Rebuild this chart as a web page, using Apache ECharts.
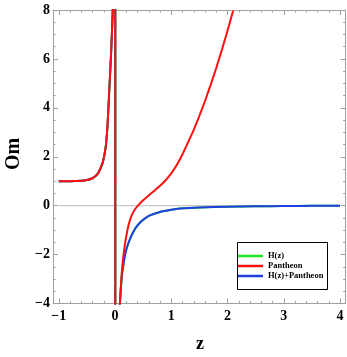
<!DOCTYPE html>
<html>
<head>
<meta charset="utf-8">
<script src="https://cdn.jsdelivr.net/npm/echarts@6/dist/echarts.min.js"></script>
<style>html,body{margin:0;padding:0;background:#fff}#c{width:347px;height:357px}</style>
</head>
<body>
<div id="c"></div>
<script>
// Left branch (z < 0), shared by all three reconstructions
const leftZ  = [-1, -0.9, -0.8, -0.7, -0.6, -0.5, -0.42, -0.35, -0.3, -0.26, -0.22, -0.19, -0.16, -0.13, -0.1, -0.07, -0.04, -0.02];
const leftOm = [1.0, 1.0, 1.0, 1.01, 1.02, 1.05, 1.1, 1.2, 1.33, 1.52, 1.75, 2.05, 2.5, 3.4, 4.8, 6.2, 8.0, 9.8];
// Join across the pole at z ~ 0
const joinZ  = [0.005, 0.005];
const joinOm = [40, -40];
// Right branch, Pantheon
const redZ  = [0.07, 0.08, 0.1, 0.12, 0.14, 0.16, 0.18, 0.2, 0.24, 0.3, 0.35, 0.4, 0.5, 0.6, 0.7, 0.8, 0.9, 1.0, 1.1, 1.2, 1.3, 1.4, 1.5, 1.6, 1.7, 1.8, 1.9, 2.0, 2.1];
const redOm = [-4.6, -4.2, -3.5, -2.75, -2.25, -1.85, -1.52, -1.25, -0.8, -0.38, -0.17, -0.02, 0.22, 0.42, 0.61, 0.81, 1.04, 1.32, 1.67, 2.1, 2.6, 3.1, 3.67, 4.28, 4.94, 5.63, 6.37, 7.15, 7.97];
// Right branch, H(z)+Pantheon (H(z) coincides)
const blueZ  = [0.07, 0.08, 0.09, 0.1, 0.12, 0.15, 0.18, 0.22, 0.27, 0.32, 0.38, 0.45, 0.5, 0.62, 0.8, 1.0, 1.15, 1.5, 2.0, 2.5, 3.0, 3.5, 4.0];
const blueOm = [-5.0, -4.3, -3.87, -3.5, -2.9, -2.4, -2.0, -1.65, -1.35, -1.1, -0.87, -0.68, -0.58, -0.4, -0.26, -0.17, -0.12, -0.07, -0.04, -0.025, -0.015, -0.008, 0.0];
const xTicks = [-1, 0, 1, 2, 3, 4];
const yTicks = [-4, -2, 0, 2, 4, 6, 8];
const names = ['H(z)', 'Pantheon', 'H(z)+Pantheon'];

function pairs(zs, vs) { return zs.map((z, i) => [z, vs[i]]); }
const leftData = pairs(leftZ, leftOm);
const joinData = pairs(joinZ, joinOm);
const greenData = leftData.concat(joinData, pairs(blueZ, blueOm));
const blueData = leftData.concat(joinData, pairs(blueZ, blueOm));
const redData = leftData.concat(joinData, pairs(redZ, redOm));

const FONT = 'Liberation Serif';
const FRAME = '#a0a0a0';
const fmt = v => (v < 0 ? '\u2212' + Math.abs(v) : String(v));

const tickX = (pos, labels) => ({
  gridIndex: 0, type: 'value', position: pos, min: xTicks[0], max: xTicks[xTicks.length - 1], interval: 1,
  axisLine: { show: false, onZero: false },
  axisTick: { show: true, inside: true, length: 5, lineStyle: { color: FRAME, width: 1 } },
  minorTick: { show: true, splitNumber: 5, length: 2.5, lineStyle: { color: FRAME, width: 1 } },
  splitLine: { show: false }, minorSplitLine: { show: false },
  axisLabel: { show: labels, formatter: fmt, fontFamily: FONT, fontWeight: 'bold', fontSize: 14, color: '#000', margin: 6 }
});
const frameX = pos => ({
  gridIndex: 1, type: 'value', position: pos, min: 0, max: 1,
  axisLine: { show: true, onZero: false, lineStyle: { color: FRAME, width: 1 } },
  axisTick: { show: false }, axisLabel: { show: false }, splitLine: { show: false }
});
const frameY = (pos, labels) => ({
  gridIndex: 1, type: 'value', position: pos, min: yTicks[0], max: yTicks[yTicks.length - 1], interval: 2,
  axisLine: { show: true, onZero: false, lineStyle: { color: FRAME, width: 1 } },
  axisTick: { show: true, inside: true, length: 5, lineStyle: { color: FRAME, width: 1 } },
  minorTick: { show: true, splitNumber: 4, length: 2.5, lineStyle: { color: FRAME, width: 1 } },
  splitLine: { show: false },
  axisLabel: { show: labels, formatter: fmt, fontFamily: FONT, fontWeight: 'bold', fontSize: 14, color: '#000', margin: 3 }
});

const lineSeries = (name, data, color) => ({
  name, type: 'line', xAxisIndex: 0, yAxisIndex: 0, data, showSymbol: false, symbol: 'none',
  smooth: 0.2, clip: true, lineStyle: { color, width: 2 }, itemStyle: { color }, z: 3
});

const option = {
  animation: false,
  backgroundColor: '#fff',
  grid: [
    { left: 58.75, right: 7, top: 10, bottom: 53.5 },
    { left: 53.1, right: 1.4, top: 10, bottom: 53.5 }
  ],
  xAxis: [tickX('bottom', true), tickX('top', false), frameX('bottom'), frameX('top')],
  yAxis: [
    { gridIndex: 0, type: 'value', min: yTicks[0], max: yTicks[yTicks.length - 1], show: false },
    frameY('left', true), frameY('right', false)
  ],
  legend: {
    data: names, orient: 'vertical', left: 238, top: 251, padding: 0, itemGap: 0,
    itemWidth: 25, itemHeight: 2.5, icon: 'rect', z: 60,
    textStyle: { fontFamily: FONT, fontWeight: 'bold', fontSize: 8.5, color: '#000', lineHeight: 10 }
  },
  graphic: [
    { type: 'rect', z: 50, shape: { x: 237.5, y: 242.5, width: 90, height: 47 },
      style: { fill: '#fff', stroke: '#000', lineWidth: 1 } },
    { type: 'text', x: 14, y: 154, rotation: Math.PI / 2,
      style: { text: 'Om', font: 'bold 20px "Liberation Serif"', fill: '#000', align: 'center', verticalAlign: 'middle' } },
    { type: 'text', x: 200, y: 344,
      style: { text: 'z', font: 'bold 18px "Liberation Serif"', fill: '#000', align: 'center', verticalAlign: 'middle' } }
  ],
  series: [
    { name: 'zero', type: 'line', xAxisIndex: 0, yAxisIndex: 0, data: [[-1, 0], [4, 0]], symbol: 'none',
      silent: true, lineStyle: { color: '#c8c8c8', width: 1.3 }, z: 1 },
    lineSeries('H(z)', greenData, '#22e022'),
    lineSeries('H(z)+Pantheon', blueData, '#1f3fe0'),
    lineSeries('Pantheon', redData, '#ff1010')
  ]
};
echarts.init(document.getElementById('c'), null, { renderer: 'canvas' }).setOption(option);
</script>
</body>
</html>
